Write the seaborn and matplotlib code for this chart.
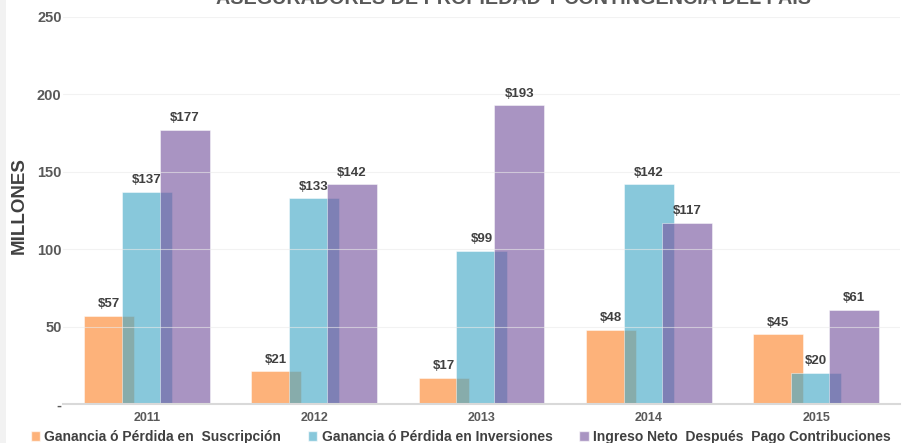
import pandas as pd
import numpy as np
import matplotlib
matplotlib.use("Agg")
import matplotlib.pyplot as plt
from matplotlib.patches import Rectangle
import seaborn as sns

years = ["2011", "2012", "2013", "2014", "2015"]
suscripcion = [57, 21, 17, 48, 45]
inversiones = [137, 133, 99, 142, 20]
ingreso_neto = [177, 142, 193, 117, 61]

series_names = [
    "Ganancia ó Pérdida en  Suscripción",
    "Ganancia ó Pérdida en Inversiones",
    "Ingreso Neto  Después  Pago Contribuciones",
]
colors = ["#FC872F", "#45A9C8", "#7958A0"]

df = pd.DataFrame({
    "year": years * 3,
    "serie": [series_names[0]] * 5 + [series_names[1]] * 5 + [series_names[2]] * 5,
    "valor": suscripcion + inversiones + ingreso_neto,
})

sns.set_style("white")
plt.rcParams["font.family"] = ["Liberation Sans", "DejaVu Sans"]

fig = plt.figure(figsize=(9.07, 4.43), dpi=100)
# light strip on the left edge
fig.patches.append(Rectangle((0, 0), 6 / 907, 1, transform=fig.transFigure,
                             facecolor="#F2F2F2", edgecolor="none", zorder=0))
ax = fig.add_axes([63 / 907, 1 - 404 / 443, (900 - 63) / 907, (404 - 17) / 443])

sns.barplot(data=df, x="year", y="valor", hue="serie", palette=colors,
            saturation=1, width=0.68, gap=-0.32, alpha=0.64,
            edgecolor="white", linewidth=0.5,
            errorbar=None, legend=False, ax=ax)

for cont in ax.containers:
    ax.bar_label(cont, fmt="${:.0f}", padding=4, fontsize=9.5,
                 fontweight="bold", color="#404040")

ax.set_ylim(0, 250)
ax.set_xlim(-0.5, 4.5)
ax.set_yticks([0, 50, 100, 150, 200, 250])
ax.set_yticklabels(["-", "50", "100", "150", "200", "250"])
ax.tick_params(axis="both", length=0, labelcolor="#595959")
ax.tick_params(axis="y", labelsize=10.5, pad=1)
ax.tick_params(axis="x", labelsize=9, pad=6)
for lab in ax.get_xticklabels() + ax.get_yticklabels():
    lab.set_fontweight("bold")

ax.yaxis.grid(True, color="#EAEAEA", linewidth=0.8, alpha=0.6)
ax.set_axisbelow(False)
for s in ["left", "right", "top"]:
    ax.spines[s].set_visible(False)
ax.spines["bottom"].set_color("#D9D9D9")
ax.spines["bottom"].set_linewidth(1.5)

ax.set_xlabel("")
ax.set_ylabel("MILLONES", fontsize=13.5, fontweight="bold", color="#404040")
ax.yaxis.set_label_coords((28 - 63) / 837, (404 - 206) / 387)

fig.text(514 / 907, 1 - 4 / 443, "ASEGURADORES DE PROPIEDAD Y CONTINGENCIA DEL PAIS",
         ha="center", va="baseline", fontsize=14.2, fontweight="bold", color="#595959")

handles = [Rectangle((0, 0), 1, 1, facecolor=c, alpha=0.64) for c in colors]
fig.legend(handles, series_names, loc="lower left", bbox_to_anchor=(18 / 907, -0.03),
           ncol=3, frameon=False, handlelength=0.7, handleheight=0.7, handletextpad=0.3,
           columnspacing=1.9,
           prop={"weight": "bold", "size": 10},
           labelcolor="#404040")

fig.savefig("out.png", dpi=100)
